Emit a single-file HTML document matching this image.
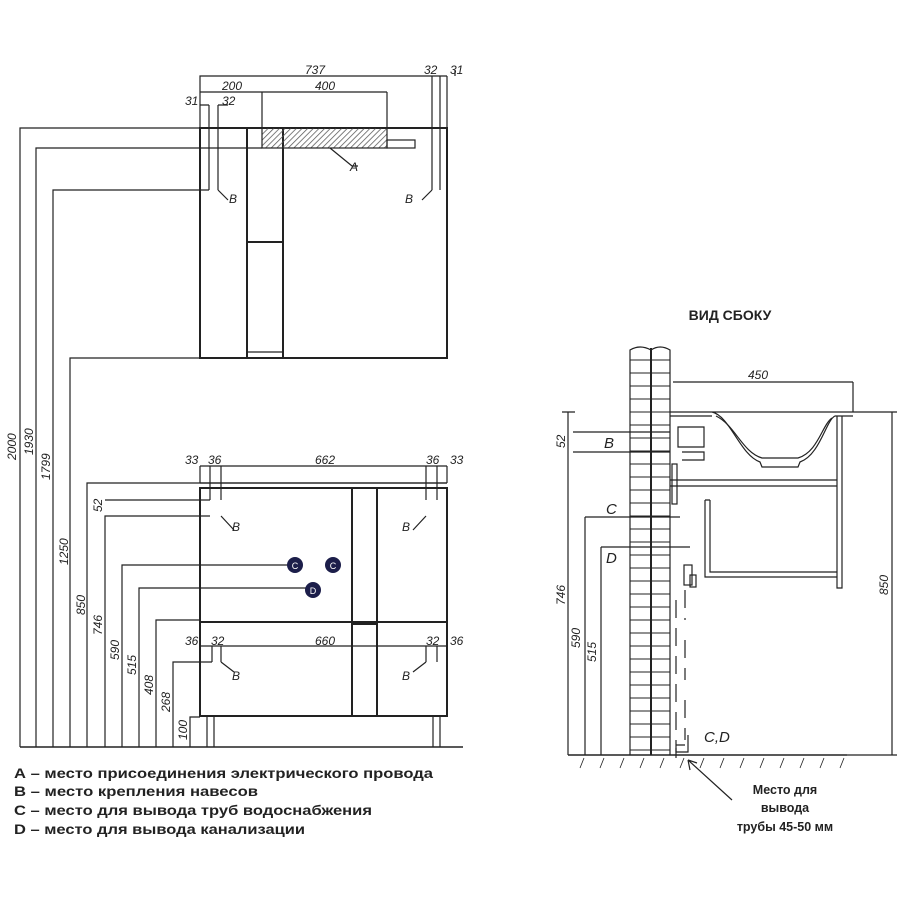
<!DOCTYPE html>
<html><head><meta charset="utf-8"><style>
html,body{margin:0;padding:0;background:#fff;width:900px;height:900px;overflow:hidden}
svg text{font-family:"Liberation Sans",sans-serif;fill:#222}
.d{font-style:italic;font-size:12px}
.lg{font-weight:bold;font-size:14px}
</style></head><body>
<svg width="900" height="900" viewBox="0 0 900 900" xmlns="http://www.w3.org/2000/svg">
<defs><pattern id="h" width="4" height="4" patternUnits="userSpaceOnUse" patternTransform="rotate(45)"><line x1="0" y1="0" x2="0" y2="4" stroke="#555" stroke-width="1.5"/></pattern></defs>
<g stroke="#222" fill="none" stroke-width="1.2">
<rect x="200" y="128" width="247" height="230" stroke-width="2"/>
<line x1="247" y1="128" x2="247" y2="358" stroke-width="2"/>
<line x1="283" y1="128" x2="283" y2="358" stroke-width="2"/>
<line x1="247" y1="242" x2="283" y2="242" stroke-width="2"/>
<line x1="247" y1="352" x2="283" y2="352"/>
<rect x="262" y="128" width="125" height="20" fill="url(#h)"/>
<rect x="387" y="140" width="28" height="8"/>
<path d="M330 148 L352 166 H358"/>
<path d="M200 128 V76 H447 M447 128 V76 M432 190 V76 M440 190 V76 M455 76 V70 M200 92 H387 M262 128 V92 M387 128 V92 M209 190 V105 M218 190 V105 M209 105 H200 M218 105 H228"/>
<path d="M218 190 L228 200 M432 190 L422 200"/>
<path d="M20 747 V128 H200 M36 747 V148 H262 M53 747 V190 H209 M70 747 V358 H200 M87 747 V483 H447 M105 747 V516 H210 M105 500 H210 M122 747 V565 H295 M139 747 V588 H313 M156 747 V620 H200 M173 747 V662 H212 M190 747 V717 H200"/>
<line x1="20" y1="747" x2="463" y2="747" stroke-width="1.5"/>
<rect x="200" y="488" width="247" height="228" stroke-width="2"/>
<line x1="200" y1="483" x2="447" y2="483"/>
<line x1="200" y1="622" x2="447" y2="622" stroke-width="2"/>
<rect x="352" y="488" width="25" height="134" stroke-width="2"/>
<rect x="352" y="624" width="25" height="92" stroke-width="2"/>
<path d="M207 716 V747 M214 716 V747 M433 716 V747 M440 716 V747"/>
<path d="M200 466 H447 M200 466 V483 M210 466 V500 M221 466 V500 M426 466 V500 M437 466 V500 M447 466 V483"/>
<path d="M221 516 L234 530 M426 516 L413 530"/>
<path d="M200 646 H447 M212 646 V662 M221 646 V662 M426 646 V662 M437 646 V662 M221 662 L234 672 M426 662 L413 672"/>
</g>
<circle cx="295" cy="565" r="8" fill="#1c1e4a"/><circle cx="333" cy="565" r="8" fill="#1c1e4a"/><circle cx="313" cy="590" r="8" fill="#1c1e4a"/>
<text x="295" y="569" font-size="9" style="fill:#fff" text-anchor="middle">C</text>
<text x="333" y="569" font-size="9" style="fill:#fff" text-anchor="middle">C</text>
<text x="313" y="594" font-size="9" style="fill:#fff" text-anchor="middle">D</text>
<g class="d">
<text x="305" y="74">737</text><text x="424" y="74">32</text><text x="450" y="74">31</text>
<text x="222" y="90">200</text><text x="315" y="90">400</text>
<text x="185" y="105">31</text><text x="222" y="105">32</text>
<text x="350" y="171">A</text><text x="229" y="203">B</text><text x="405" y="203">B</text>
<text x="185" y="464">33</text><text x="208" y="464">36</text><text x="315" y="464">662</text><text x="426" y="464">36</text><text x="450" y="464">33</text>
<text x="232" y="531">B</text><text x="402" y="531">B</text>
<text x="185" y="645">36</text><text x="211" y="645">32</text><text x="315" y="645">660</text><text x="426" y="645">32</text><text x="450" y="645">36</text>
<text x="232" y="680">B</text><text x="402" y="680">B</text>
<text transform="translate(16,460) rotate(-90)">2000</text>
<text transform="translate(33,455) rotate(-90)">1930</text>
<text transform="translate(50,480) rotate(-90)">1799</text>
<text transform="translate(68,565) rotate(-90)">1250</text>
<text transform="translate(85,615) rotate(-90)">850</text>
<text transform="translate(102,635) rotate(-90)">746</text>
<text transform="translate(102,512) rotate(-90)">52</text>
<text transform="translate(119,660) rotate(-90)">590</text>
<text transform="translate(136,675) rotate(-90)">515</text>
<text transform="translate(153,695) rotate(-90)">408</text>
<text transform="translate(170,712) rotate(-90)">268</text>
<text transform="translate(187,740) rotate(-90)">100</text>
</g>
<text x="730" y="320" text-anchor="middle" font-size="14" font-weight="bold">ВИД СБОКУ</text>
<g stroke="#222" fill="none" stroke-width="1.2">
<path d="M630 755 V350 Q640 344 651 350 Q660 344 670 350 V755"/>
<line x1="651" y1="348" x2="651" y2="755" stroke-width="2"/>
<path stroke-width="0.9" d="M630 360H670M630 373H670M630 386H670M630 399H670M630 412H670M630 425H670M630 438H670M630 451H670M630 464H670M630 477H670M630 490H670M630 503H670M630 516H670M630 529H670M630 542H670M630 555H670M630 568H670M630 581H670M630 594H670M630 607H670M630 620H670M630 633H670M630 646H670M630 659H670M630 672H670M630 685H670M630 698H670M630 711H670M630 724H670M630 737H670M630 750H670"/>
<line x1="568" y1="755" x2="847" y2="755" stroke-width="1.5"/>
<path stroke-width="0.8" d="M600 768 L604 758 M620 768 L624 758 M640 768 L644 758 M660 768 L664 758 M680 768 L684 758 M700 768 L704 758 M720 768 L724 758 M740 768 L744 758 M760 768 L764 758 M780 768 L784 758 M800 768 L804 758 M820 768 L824 758 M840 768 L844 758 M580 768 L584 758"/>
<path d="M673 382 H853 M853 382 V412"/>
<path d="M670 412 H853 M670 416 H712 M712 412 C730 416 740 455 760 462 L762 467 H798 L800 462 C820 455 826 420 835 416 H853"/>
<path d="M716 416 C735 425 742 452 762 458 H798 C818 452 822 425 832 418"/>
<path d="M837 416 V588 H842 V416"/>
<path d="M670 480 H837 M670 486 H837"/>
<rect x="672" y="464" width="5" height="40"/>
<path d="M705 500 V577 H837 M710 500 V572 H837 M705 500 H710"/>
<rect x="684" y="565" width="8" height="20"/><rect x="690" y="575" width="6" height="12"/>
<path d="M678 427 H704 V447 H678 Z M682 452 H704 V460 H682"/>
<path d="M573 432 H670 M573 452 H670 M568 412 V755 M562 412 H575 M585 517 V755 M585 517 H680 M601 547 V755 M601 547 H690 M892 412 V755 M853 412 H897 M847 755 H897"/>
<path d="M676 600 V760 M685 590 V620 M685 640 V680 M685 700 V740 M676 745 H685" stroke-dasharray="18 10"/>
<path d="M676 748 V752 H688 V735"/>
<path d="M732 800 L688 760 M688 760 L690 770 M688 760 L697 763"/>
</g>
<g class="d" font-size="14">
<text x="604" y="448" style="font-size:15px">B</text><text x="606" y="514" style="font-size:15px">C</text><text x="606" y="563" style="font-size:15px">D</text><text x="704" y="742" style="font-size:15px">C,D</text>
<text x="748" y="379">450</text>
<text transform="translate(888,595) rotate(-90)">850</text>
<text transform="translate(565,605) rotate(-90)">746</text>
<text transform="translate(565,448) rotate(-90)">52</text>
<text transform="translate(580,648) rotate(-90)">590</text>
<text transform="translate(596,662) rotate(-90)">515</text>
</g>
<g font-size="12.5" font-weight="bold" text-anchor="middle">
<text x="785" y="794">Место для</text><text x="785" y="812">вывода</text><text x="785" y="831">трубы 45-50 мм</text>
</g>
<g class="lg">
<text x="14" y="778" textLength="419" lengthAdjust="spacingAndGlyphs">А – место присоединения электрического провода</text>
<text x="14" y="796" textLength="244" lengthAdjust="spacingAndGlyphs">В – место крепления навесов</text>
<text x="14" y="815" textLength="358" lengthAdjust="spacingAndGlyphs">С – место для вывода труб водоснабжения</text>
<text x="14" y="834" textLength="291" lengthAdjust="spacingAndGlyphs">D – место для вывода канализации</text>
</g>
</svg>
</body></html>
